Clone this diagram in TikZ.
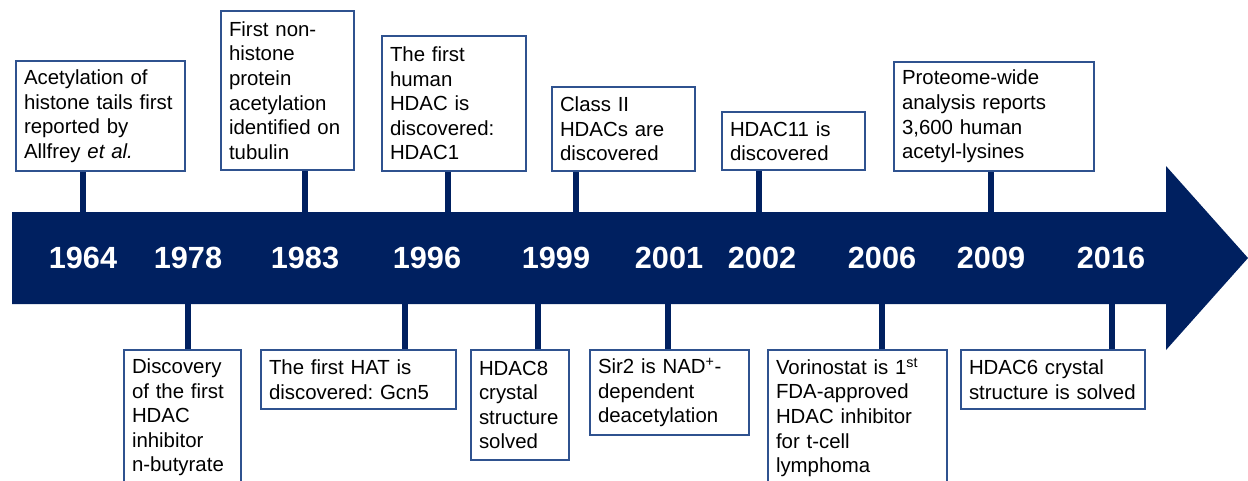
\documentclass[tikz,border=0pt]{standalone}
\usepackage{fontspec}
\setmainfont{Liberation Sans}
\usepackage{tikz}
\usetikzlibrary{arrows,shapes}
\frenchspacing
\pgfdeclarelayer{background}
\pgfsetlayers{background,main}
\definecolor{navy}{RGB}{0,32,96}
\definecolor{boxblue}{RGB}{47,82,143}
\tikzstyle{event}=[draw=boxblue,line width=0.8pt,fill=white,align=left,inner xsep=6pt,inner ysep=0pt,outer sep=0pt,font=\fontsize{15.3}{18.4}\selectfont]
\tikzstyle{top event} = [event, anchor=south west]
\tikzstyle{bottom event} = [event, anchor=north west]
\tikzstyle{year}=[text=white,font=\fontsize{23}{27}\selectfont\bfseries]
\tikzstyle{stem} = [draw=navy,line width=5pt]

\begin{document}
\begin{tikzpicture}[x=0.75pt,y=-0.75pt]
    \useasboundingbox (0,0) rectangle (1248,480);
    \clip (0,0) rectangle (1248,480);
    % The big arrow
    \fill[navy] (12,212) -- (1166,212) -- (1166,166) -- (1248,258)
        -- (1166,350) -- (1166,304) -- (12,304) -- cycle;

    % Years on the arrow
    \foreach \x/\name in {83/1964, 188/1978, 305/1983, 427/1996, 556/1999, 669/2001, 762/2002, 882/2006, 991/2009, 1111/2016}
        \node[year] (y\name) at (\x,258) {\name};

    % Events above the arrow
    \node[top event,text width=114.75pt,minimum height=82.5pt] (t1) at (16,171)
        {Acetylation of\\histone tails first\\reported by\\Allfrey \textit{et al.}};
    \node[top event,text width=87.75pt,minimum height=119.25pt] (t2) at (221,170)
        {First non-\\histone\\protein\\acetylation\\identified on\\tubulin};
    \node[top event,text width=96pt,minimum height=101.25pt] (t3) at (382,171)
        {The first\\human\\HDAC is\\discovered:\\HDAC1};
    \node[top event,text width=95.25pt,minimum height=63pt] (t4) at (552,171)
        {Class II\\HDACs are\\discovered};
    \node[top event,text width=95.25pt,minimum height=43.5pt] (t5) at (722,170)
        {HDAC11 is\\discovered};
    \node[top event,text width=138pt,minimum height=81.75pt] (t6) at (894,171)
        {Proteome-wide\\analysis reports\\3,600 human\\acetyl-lysines};

    % Events below the arrow
    \node[bottom event,text width=75.75pt,minimum height=101.25pt] (b1) at (124,350)
        {Discovery\\of the first\\HDAC\\inhibitor\\n-butyrate};
    \node[bottom event,text width=134.25pt,minimum height=44.25pt] (b2) at (261,350)
        {The first HAT is\\discovered: Gcn5};
    \node[bottom event,text width=61.5pt,minimum height=82.5pt] (b3) at (471,350)
        {HDAC8\\crystal\\structure\\solved};
    \node[bottom event,text width=107.25pt,minimum height=63.75pt] (b4) at (590,350)
        {Sir2 is NAD\textsuperscript{+}-\\dependent\\deacetylation};
    \node[bottom event,text width=122.25pt,minimum height=101.25pt] (b5) at (768,350)
        {Vorinostat is 1\textsuperscript{st}\\FDA-approved\\HDAC inhibitor\\for t-cell\\lymphoma};
    \node[bottom event,text width=126pt,minimum height=44.25pt] (b6) at (961,350)
        {HDAC6 crystal\\structure is solved};

    % Stems from the arrow to the events
    \foreach \src/\x/\y in {t1/83/212, t2/305/212, t3/448/212, t4/576/212, t5/759/212, t6/991/212,
                            b1/188/304, b2/405/304, b3/538/304, b4/668/304, b5/882/304, b6/1112/304} {
        \coordinate (\src stem) at (\x,\y);
        \begin{pgfonlayer}{background}
            \path[stem] (\src stem) -- (\src stem |- \src.center);
        \end{pgfonlayer}
    }
\end{tikzpicture}
\end{document}
